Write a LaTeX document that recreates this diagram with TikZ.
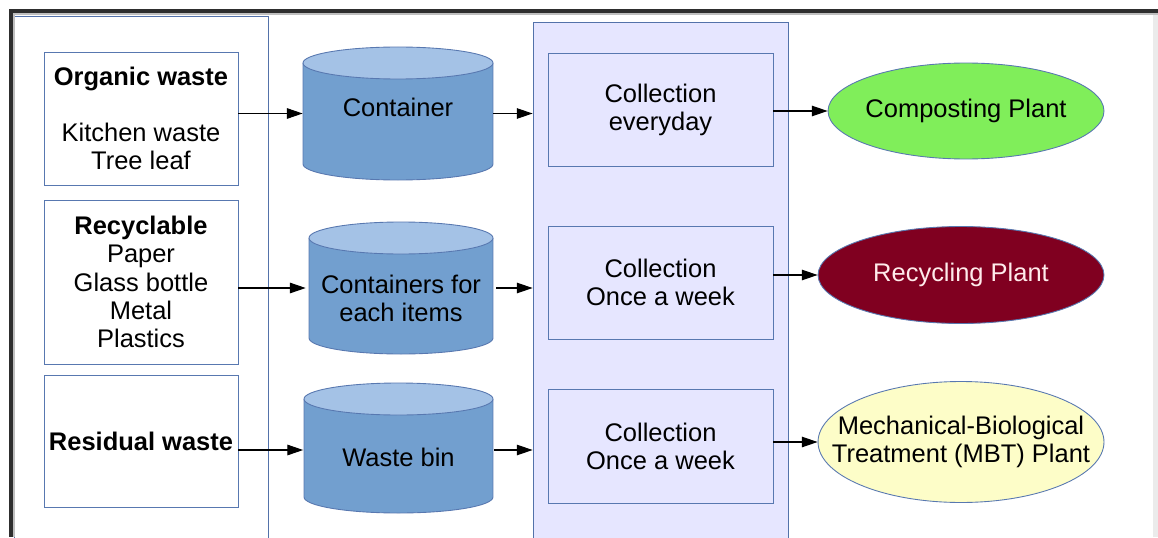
\documentclass[tikz,border=0pt]{standalone}
\usepackage{fontspec}
\setmainfont{Liberation Sans}
\usetikzlibrary{shapes.geometric,arrows.meta}
\definecolor{edgeblue}{HTML}{5878B0}
\definecolor{panelline}{HTML}{5372AA}
\definecolor{lavender}{HTML}{E6E6FF}
\definecolor{drumside}{HTML}{729FCF}
\definecolor{drumtop}{HTML}{A4C2E6}
\definecolor{compostgreen}{HTML}{80EE5A}
\definecolor{recycred}{HTML}{800020}
\definecolor{mbtyellow}{HTML}{FDFDC8}
\definecolor{framedark}{HTML}{2E2E2E}
\begin{document}
\begin{tikzpicture}[x=0.02cm,y=-0.02cm,
  every node/.style={font=\fontsize{14.5}{16}\selectfont, align=center, inner sep=0pt},
  wastebox/.style={draw=edgeblue, line width=0.5pt, fill=white, minimum width=3.88cm},
  drum/.style={minimum width=3.8cm},
  pickup/.style={draw=edgeblue, line width=0.5pt, fill=lavender, minimum width=4.5cm, minimum height=2.26cm},
  plant/.style={ellipse, draw=edgeblue, line width=0.5pt, inner xsep=-0.8cm},
  flow/.style={-{Triangle[length=9pt,width=6pt]}, line width=0.6pt}]

  \clip (0,0) rectangle (1158,537);
  \fill[white] (0,0) rectangle (1158,537);
  \fill[black!8] (1153,15) rectangle (1158,537);

  % the two columns behind the boxes
  \draw[panelline, line width=0.5pt, fill=white] (14,16) rectangle (268,560);
  \node (mid) [draw=panelline, line width=0.5pt, fill=lavender, minimum width=5.1cm, minimum height=10.76cm] at (660.5,291) {};

  % window frame
  \fill[framedark] (9,9) rectangle (1158,13);
  \fill[framedark] (9,9) rectangle (13,537);
  \fill[black!25] (13,13) rectangle (1158,15);
  \fill[black!25] (13,13) rectangle (15,537);

  % kinds of waste
  \node (organic) [wastebox, minimum height=2.66cm] at (141,118.5) {\textbf{Organic waste}\\ \\Kitchen waste\\Tree leaf};
  \node (recycle) [wastebox, minimum height=3.28cm] at (141,282) {\textbf{Recyclable}\\Paper\\Glass bottle\\Metal\\Plastics};
  \node (residual) [wastebox, minimum height=2.64cm] at (141,441) {\textbf{Residual waste}};

  % containers
  \foreach \cx/\rx/\yt/\yb in {398/95/63/164, 401/92/238/338, 398.5/94.5/399/497}{
    \fill[drumside] (\cx-\rx,\yt) rectangle (\cx+\rx,\yb);
    \fill[drumside] (\cx,\yb) ellipse [x radius=\rx, y radius=16];
    \draw[edgeblue, line width=0.5pt] (\cx-\rx,\yt) -- (\cx-\rx,\yb) arc [start angle=180, end angle=0, x radius=\rx, y radius=16] -- (\cx+\rx,\yt);
    \draw[edgeblue, line width=0.5pt, fill=drumtop] (\cx,\yt) ellipse [x radius=\rx, y radius=16];
  }
  \node (drum1) [drum, minimum height=2.66cm] at (398,113.5) {};
  \node (drum2) [drum, minimum height=2.64cm] at (401,288) {};
  \node (drum3) [drum, minimum height=2.6cm] at (398.5,450) {};
  \node (drum1txt) at (398,107) {Container};
  \node (drum2txt) at (401,298) {Containers for\\each items};
  \node (drum3txt) at (398.5,457) {Waste bin};

  % collection
  \node (coll1) [pickup] at (660.5,109.5) {Collection\\everyday};
  \node (coll2) [pickup] at (660.5,282.5) {Collection\\Once a week};
  \node (coll3) [pickup, minimum height=2.28cm] at (660.5,446) {Collection\\Once a week};

  % plants
  \node (compost) [plant, fill=compostgreen, minimum width=5.52cm, minimum height=1.92cm] at (966,111) {Composting Plant};
  \node (recplant) [plant, fill=recycred, text=white!92!red, minimum width=5.72cm, minimum height=1.94cm] at (961,275) {Recycling Plant};
  \node (mbt) [plant, fill=mbtyellow, minimum width=5.72cm, minimum height=2.42cm] at (961,442) {Mechanical-Biological\\Treatment (MBT) Plant};

  % arrows
  \draw[flow] (organic.east |- drum1.west) -- (drum1.west);
  \draw[flow] (recycle.east |- drum2.west) -- (drum2.west);
  \draw[flow] (residual.east |- drum3.west) -- (drum3.west);
  \draw[flow] (drum1.east) -- (drum1.east -| mid.west);
  \draw[flow] (drum2.east) -- (drum2.east -| mid.west);
  \draw[flow] (drum3.east) -- (drum3.east -| mid.west);
  \draw[flow] (coll1.east |- compost.west) -- (compost.west);
  \draw[flow] (coll2.east |- recplant.west) -- (recplant.west);
  \draw[flow] (coll3.east |- mbt.west) -- (mbt.west);
\end{tikzpicture}
\end{document}
